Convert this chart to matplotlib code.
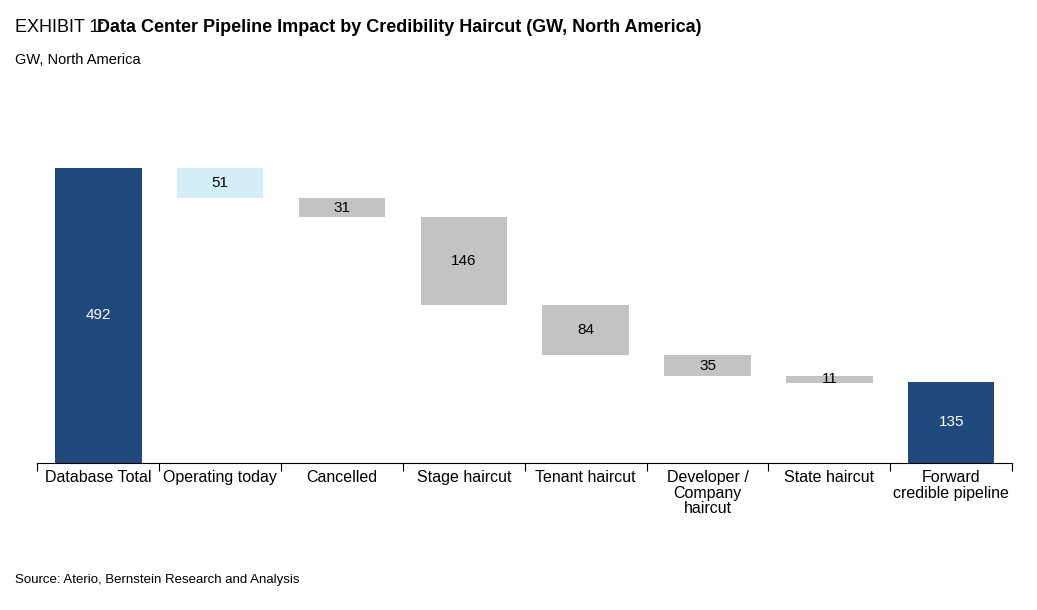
import matplotlib.pyplot as plt

plt.rcParams['font.family'] = ['Liberation Sans', 'DejaVu Sans']

categories = ['Database Total', 'Operating today', 'Cancelled', 'Stage haircut',
              'Tenant haircut', 'Developer /\nCompany\nhaircut', 'State haircut',
              'Forward\ncredible pipeline']
values = [492, 51, 31, 146, 84, 35, 11, 135]
kinds = ['total', 'light', 'step', 'step', 'step', 'step', 'step', 'total']
colors = {'total': '#1F497D', 'light': '#D3EDF9', 'step': '#C3C3C3'}

fig = plt.figure(figsize=(10.37, 6.1), dpi=100)
ax = fig.add_axes([0.036, 0.241, 0.94, 0.595])

level = values[0]
for i, (v, k) in enumerate(zip(values, kinds)):
    if k == 'total':
        bottom = 0
        level = v
    else:
        bottom = level - v
        level = bottom
    ax.bar(i, v, bottom=bottom, width=0.71, color=colors[k])
    ax.text(i, bottom + v / 2, str(v), ha='center', va='center', fontsize=11,
            color='white' if k == 'total' else 'black')

ax.set_xlim(-0.5, len(values) - 0.5)
ax.set_ylim(0, 605)
ax.set_yticks([])
for s in ['top', 'right', 'left']:
    ax.spines[s].set_visible(False)
ax.spines['bottom'].set_color('black')
ax.set_xticks([x + 0.5 for x in range(-1, len(values))], minor=False)
ax.set_xticklabels([])
ax.tick_params(axis='x', length=6, direction='out', color='black')
for i, c in enumerate(categories):
    ax.text(i, -12, c, ha='center', va='top', fontsize=11.5, linespacing=1.05)

fig.text(0.014, 0.955, 'EXHIBIT 1:', fontsize=13, va='center')
fig.text(0.094, 0.955, 'Data Center Pipeline Impact by Credibility Haircut (GW, North America)',
         fontsize=13, fontweight='bold', va='center')
fig.text(0.014, 0.902, 'GW, North America', fontsize=10.5, va='center')
fig.text(0.014, 0.05, 'Source: Aterio, Bernstein Research and Analysis', fontsize=9.5, va='center')

fig.savefig('out.png', dpi=100)
